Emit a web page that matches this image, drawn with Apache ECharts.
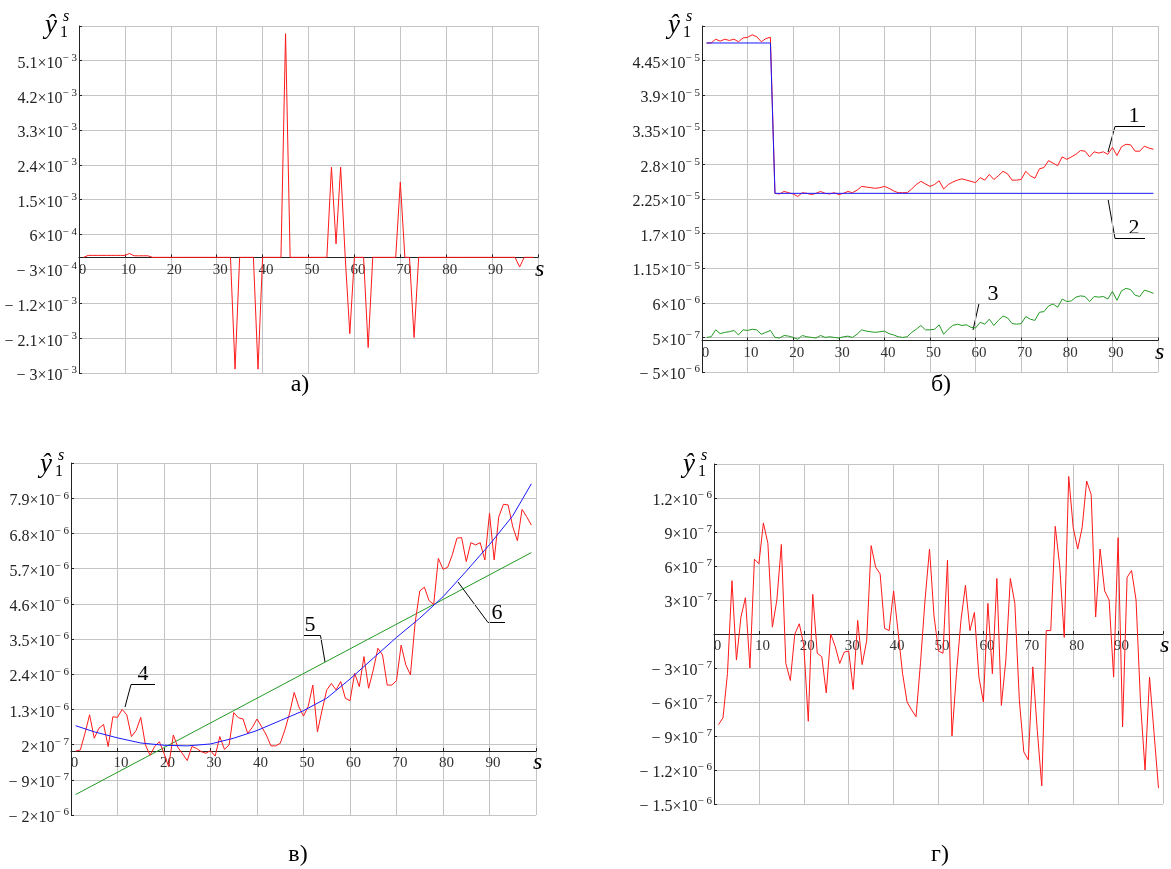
<!DOCTYPE html>
<html><head><meta charset="utf-8">
<script src="https://cdn.jsdelivr.net/npm/echarts@6/dist/echarts.min.js"></script>
<style>html,body{margin:0;padding:0;background:#fff}#c{width:1171px;height:869px}</style>
</head><body><div id="c"></div>
<script>
// ---------------- DATA ----------------
// s = 1..99 (sample index) for the dense series
// panel а) red, units 1e-3
const aRed = [0, 0.05,0.05,0.05,0.05,0.05,0.05,0.05,0.05,0.05, 0.1, 0.04,0.04,0.04,0.04,
  0,0,0,0,0,0,0,0,0,0,0,0,0,0,0,0,0,0, -2.9, 0,0,0,0, -2.9, 0,0,0,0,0, 5.8,
  0,0,0,0,0,0,0,0,0, 2.34, 0.35, 2.34, 0, -1.98, 0,0,0, -2.34, 0,0,0,0,0,0, 1.95, 0,0, -2.08,
  0,0,0,0,0,0,0,0,0,0,0,0,0,0,0,0,0,0,0,0,0,0, -0.25, 0,0,0];
// panel б) units 1e-5
const bRed = [4.73, 4.73, 4.79, 4.76, 4.79, 4.77, 4.79, 4.75, 4.81, 4.82,
  4.86, 4.83, 4.75, 4.80, 4.82, 2.34, 2.33, 2.37, 2.35, 2.33,
  2.29, 2.35, 2.34, 2.32, 2.34, 2.37, 2.34, 2.33, 2.35, 2.32,
  2.34, 2.37, 2.35, 2.39, 2.45, 2.44, 2.43, 2.42, 2.43, 2.45,
  2.42, 2.38, 2.35, 2.35, 2.35, 2.41, 2.48, 2.53, 2.49, 2.45,
  2.48, 2.54, 2.41, 2.48, 2.52, 2.55, 2.57, 2.55, 2.53, 2.51,
  2.59, 2.55, 2.64, 2.56, 2.62, 2.69, 2.65, 2.55, 2.55, 2.56,
  2.69, 2.62, 2.58, 2.73, 2.75, 2.86, 2.82, 2.78, 2.92, 2.88,
  2.92, 2.96, 3.02, 3.01, 2.92, 3.00, 2.98, 3.00, 2.96, 3.07,
  2.94, 3.08, 3.12, 3.11, 3.01, 3.01, 3.09, 3.06, 3.04];
const bBlueS = [1, 15, 16, 99];
const bBlue = [4.73, 4.73, 2.34, 2.34];
const bGreen = [0.05, 0.06, 0.17, 0.11, 0.13, 0.14, 0.16, 0.09, 0.17, 0.16,
  0.18, 0.17, 0.10, 0.13, 0.16, 0.05, 0.04, 0.08, 0.07, 0.05,
  0.02, 0.08, 0.06, 0.05, 0.04, 0.08, 0.05, 0.06, 0.05, 0.04,
  0.06, 0.07, 0.05, 0.10, 0.17, 0.15, 0.14, 0.13, 0.14, 0.15,
  0.11, 0.09, 0.06, 0.05, 0.06, 0.13, 0.18, 0.24, 0.17, 0.17,
  0.18, 0.25, 0.10, 0.18, 0.24, 0.26, 0.24, 0.25, 0.21, 0.20,
  0.29, 0.26, 0.34, 0.24, 0.32, 0.39, 0.36, 0.27, 0.26, 0.27,
  0.38, 0.34, 0.32, 0.45, 0.46, 0.55, 0.58, 0.53, 0.66, 0.62,
  0.63, 0.69, 0.71, 0.70, 0.62, 0.70, 0.69, 0.70, 0.66, 0.78,
  0.64, 0.79, 0.83, 0.81, 0.72, 0.70, 0.80, 0.78, 0.75];
// panel в) units 1e-6
const vRed = [0.0, 0.03, 0.55, 1.13, 0.40, 0.71, 0.83, 0.14, 1.07, 1.05,
  1.30, 1.13, 0.45, 0.64, 1.05, 0.19, -0.13, 0.14, 0.29, -0.07,
  -0.49, 0.50, 0.11, -0.09, -0.30, 0.14, 0.08, -0.02, -0.07, 0.01,
  -0.16, 0.45, 0.05, 0.19, 1.20, 1.04, 1.00, 0.55, 0.74, 1.00,
  0.76, 0.50, 0.16, 0.16, 0.24, 0.66, 1.18, 1.83, 1.38, 1.09,
  1.39, 2.06, 0.60, 1.28, 1.91, 2.11, 1.91, 2.17, 1.65, 1.57,
  2.43, 2.01, 2.95, 1.96, 2.53, 3.21, 3.00, 2.06, 2.06, 2.20,
  3.31, 2.69, 2.38, 4.00, 5.00, 5.12, 4.70, 4.58, 6.02, 5.68,
  5.74, 6.13, 6.65, 6.67, 5.92, 6.51, 6.44, 6.51, 5.97, 7.43,
  5.97, 7.32, 7.71, 7.69, 7.01, 6.57, 7.55, 7.32, 7.06];
const vBlueS = [1, 5, 10, 15, 20, 25, 30, 35, 40, 45, 50, 55, 60, 65, 70, 75, 80, 85, 90, 95, 99];
const vBlue = [0.79, 0.60, 0.41, 0.25, 0.18, 0.16, 0.22, 0.40, 0.64, 0.95, 1.26, 1.65, 2.25, 2.90, 3.55, 4.15, 4.82, 5.62, 6.45, 7.35, 8.35];
const vGreenS = [1, 99];
const vGreen = [-1.36, 6.20];
// panel г) units 1e-7
const gRed = [-8.0, -7.4, -3.5, 4.7, -2.3, 1.5, 3.2, -3.0, 6.6, 6.2,
  9.8, 8.0, 0.6, 3.0, 7.9, -2.6, -4.1, 0, 0.9, -1.0,
  -7.7, 3.5, -1.7, -2.0, -5.2, 0, -1.1, -2.6, -1.6, -1.5,
  -4.9, 1.2, -2.7, -0.6, 7.8, 5.9, 5.3, 0.5, 0.3, 3.8,
  0.2, -3.5, -6.0, -6.7, -7.3, -2.5, 3.0, 7.5, 1.6, -1.5,
  -1.7, 6.5, -9.0, -3.5, 1.2, 4.3, 0.3, 1.9, -3.8, -6.0,
  2.7, -3.5, 4.9, -6.3, -2.3, 4.9, 2.7, -5.8, -10.4, -11.1,
  -2.9, -8.5, -13.4, 0.3, 0.3, 9.5, 6.0, -0.3, 13.9, 9.4,
  7.5, 9.4, 13.5, 12.3, 1.5, 7.5, 3.8, 3.0, -3.8, 8.5,
  -8.2, 5.0, 5.6, 3.0, -6.1, -12.0, -3.8, -8.7, -13.6];

// tick labels (from axis min upwards); '^' separates the exponent
const xTicks = ['0','10','20','30','40','50','60','70','80','90'];
const aYTicks = ['− 3×10^− 3','− 2.1×10^− 3','− 1.2×10^− 3','− 3×10^− 4','6×10^− 4','1.5×10^− 3','2.4×10^− 3','3.3×10^− 3','4.2×10^− 3','5.1×10^− 3'];
const bYTicks = ['− 5×10^− 6','5×10^− 7','6×10^− 6','1.15×10^− 5','1.7×10^− 5','2.25×10^− 5','2.8×10^− 5','3.35×10^− 5','3.9×10^− 5','4.45×10^− 5'];
const vYTicks = ['− 2×10^− 6','− 9×10^− 7','2×10^− 7','1.3×10^− 6','2.4×10^− 6','3.5×10^− 6','4.6×10^− 6','5.7×10^− 6','6.8×10^− 6','7.9×10^− 6'];
const gYTicks = ['− 1.5×10^− 6','− 1.2×10^− 6','− 9×10^− 7','− 6×10^− 7','− 3×10^− 7','','3×10^− 7','6×10^− 7','9×10^− 7','1.2×10^− 6'];
const captions = ['а)', 'б)', 'в)', 'г)'];
const notes = ['1', '2', '3', '4', '5', '6'];

// ---------------- CHART ----------------
const FONT = '"Liberation Serif", "Times New Roman", serif';
const RED = '#ff1a1a', BLUE = '#1a1aff', GREEN = '#229a22';
const GRIDC = '#c4c4c4';

const grids = [
  {left: 79, top: 26, width: 459, height: 347},
  {left: 702, top: 26, width: 456, height: 346},
  {left: 71, top: 463, width: 465, height: 352},
  {left: 714, top: 464, width: 449, height: 340}
];
const yCfg = [
  {min: -3e-3, max: 6e-3, interval: 9e-4, labels: aYTicks},
  {min: -5e-6, max: 5e-5, interval: 5.5e-6, labels: bYTicks},
  {min: -2e-6, max: 9e-6, interval: 1.1e-6, labels: vYTicks},
  {min: -1.5e-6, max: 1.5e-6, interval: 3e-7, labels: gYTicks}
];

// the s-axis crosses the ordinate at zero: shift the bottom axis up to y = 0
const xAxes = grids.map((g, i) => {
  const c = yCfg[i];
  const shift = g.height * (0 - c.min) / (c.max - c.min);
  return {
    gridIndex: i, type: 'value', min: 0, max: 100, interval: 10,
    position: 'bottom', offset: -shift,
    axisLine: {show: true, onZero: false, lineStyle: {color: '#222', width: 1}},
    axisTick: {show: true, inside: true, length: 3, lineStyle: {color: '#222'}},
    splitLine: {show: true, lineStyle: {color: GRIDC, width: 1}},
    axisLabel: {show: true, margin: 5, color: '#333', fontFamily: FONT, fontSize: 15,
      padding: [0, 0, 0, 7], showMinLabel: true, showMaxLabel: true,
      formatter: v => xTicks[Math.round(v / 10)] || ''},
    name: 's', nameLocation: 'end', nameGap: -3,
    nameTextStyle: {fontFamily: FONT, fontStyle: 'italic', fontSize: 24, color: '#000',
      align: 'left', verticalAlign: 'top', padding: [0, 0, 0, 0]}
  };
});

const yAxes = yCfg.map((c, i) => ({
  gridIndex: i, type: 'value', min: c.min, max: c.max, interval: c.interval,
  axisLine: {show: true, onZero: false, lineStyle: {color: '#222', width: 1}},
  axisTick: {show: true, inside: true, length: 3, lineStyle: {color: '#222'}},
  splitLine: {show: true, lineStyle: {color: GRIDC, width: 1}},
  axisLabel: {show: true, margin: 2, showMinLabel: true, showMaxLabel: true,
    formatter: v => {
      const t = c.labels[Math.round((v - c.min) / c.interval)];
      if (!t) return '';
      const p = t.split('^');
      return '{m|' + p[0] + '}{e|' + p[1] + '}';
    },
    rich: {
      m: {fontFamily: FONT, fontSize: 16, color: '#222', lineHeight: 22, verticalAlign: 'bottom'},
      e: {fontFamily: FONT, fontSize: 11, color: '#222', verticalAlign: 'top', padding: [3, 0, 0, 0]}
    }}
}));

function pairsIdx(vals, unit) { return vals.map((v, i) => [i + 1, v * unit]); }
function pairsXY(xs, vals, unit) { return xs.map((x, i) => [x, vals[i] * unit]); }
function line(gi, data, color) {
  return {type: 'line', xAxisIndex: gi, yAxisIndex: gi, data, showSymbol: false, symbol: 'none',
    lineStyle: {color, width: 1}, itemStyle: {color}, silent: true, animation: false};
}

const series = [
  line(0, pairsIdx(aRed, 1e-3), RED),
  line(1, pairsIdx(bRed, 1e-5), RED),
  line(1, pairsXY(bBlueS, bBlue, 1e-5), BLUE),
  line(1, pairsIdx(bGreen, 1e-5), GREEN),
  line(2, pairsXY(vGreenS, vGreen, 1e-6), GREEN),
  line(2, pairsIdx(vRed, 1e-6), RED),
  line(2, pairsXY(vBlueS, vBlue, 1e-6), BLUE),
  line(3, pairsIdx(gRed, 1e-7), RED)
];

// y-axis symbol ŷ₁ˢ for each panel
function yTitle(ax, top) {
  return [
    {type: 'text', x: ax - 34, y: top + 13, style: {text: 'ŷ', font: 'italic 27px ' + FONT, fill: '#000', align: 'left', verticalAlign: 'middle'}},
    {type: 'text', x: ax - 19, y: top + 20, style: {text: '1', font: '16px ' + FONT, fill: '#000', align: 'left', verticalAlign: 'middle'}},
    {type: 'text', x: ax - 16, y: top + 4, style: {text: 's', font: 'italic 16px ' + FONT, fill: '#000', align: 'left', verticalAlign: 'middle'}}
  ];
}
function caption(t, x, y) {
  return {type: 'text', x, y, style: {text: t, font: '24px ' + FONT, fill: '#000', align: 'center', verticalAlign: 'middle'}};
}
function note(t, pts, tx, ty) {
  return [
    {type: 'polyline', shape: {points: pts}, style: {stroke: '#000', lineWidth: 1, fill: null}},
    {type: 'text', x: tx, y: ty, style: {text: t, font: '22px ' + FONT, fill: '#000', align: 'center', verticalAlign: 'middle'}}
  ];
}

const graphic = [].concat(
  yTitle(79, 13), yTitle(702, 13), yTitle(74, 452), yTitle(717, 452),
  caption(captions[0], 300, 385), caption(captions[1], 941, 385),
  caption(captions[2], 298, 855), caption(captions[3], 940, 855),
  note(notes[0], [[1108, 152], [1115, 126.5], [1145, 126.5]], 1134, 116),
  note(notes[1], [[1108, 199], [1115, 238.5], [1145, 238.5]], 1134, 228),
  note(notes[2], [[973, 330], [979, 303.5], [1004, 303.5]], 993, 294),
  note(notes[3], [[125, 707], [131, 684.5], [155, 684.5]], 143, 674),
  note(notes[4], [[325, 662], [320.5, 635.5], [303, 635.5]], 310, 625),
  note(notes[5], [[458, 582], [488, 622.5], [505, 622.5]], 497, 613)
);

const chart = echarts.init(document.getElementById('c'), null, {renderer: 'canvas'});
chart.setOption({
  backgroundColor: '#fff',
  animation: false,
  grid: grids.map(g => Object.assign({containLabel: false}, g)),
  xAxis: xAxes,
  yAxis: yAxes,
  series,
  graphic
});
</script>
</body></html>
